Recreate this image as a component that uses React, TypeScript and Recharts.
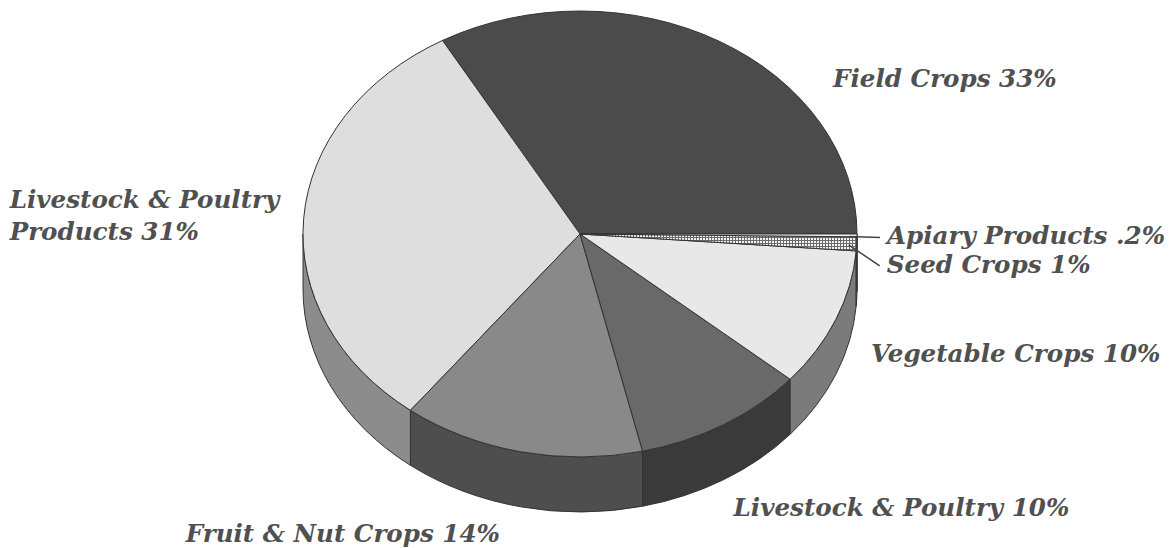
import React from 'react';
import { PieChart, Pie, Cell } from 'recharts';

// ---- data ----
const categories = [
  'Field Crops',
  'Livestock & Poultry Products',
  'Fruit & Nut Crops',
  'Livestock & Poultry',
  'Vegetable Crops',
  'Seed Crops',
  'Apiary Products',
];
const shares = [33, 31, 14, 10, 10, 1, 0.2];
const labelLines = [
  ['Field Crops 33%'],
  ['Livestock & Poultry', 'Products 31%'],
  ['Fruit & Nut Crops 14%'],
  ['Livestock & Poultry 10%'],
  ['Vegetable Crops 10%'],
  ['Seed Crops 1%'],
  ['Apiary Products .2%'],
];

// ---- styles / layout ----
const topColors = ['#4b4b4b', '#dedede', '#898989', '#696969', '#e8e8e8', 'url(#seedHatch)', '#f6f6f6'];
const sideColors = ['#3a3a3a', '#8c8c8c', '#4e4e4e', '#3a3a3a', '#7b7b7b', '#a8a8a8', '#cfcfcf'];
// label anchor offsets relative to the slice's outer rim point (dx, dy of first baseline), text anchor
const labelOffsets: [number, number, string][] = [
  [114, 46, 'start'],
  [-294, -10, 'start'],
  [-178, 35, 'middle'],
  [10, 36, 'start'],
  [35, -12, 'start'],
  [30, 29, 'start'],
  [30, 9, 'start'],
];
const leaderIdx = [5, 6];

const CX = 580;
const CY = 234;
const RX = 277;
const SQUASH = 0.805;
const DEPTH = 55;
const LINE_H = 32;

const data = categories.map((name, i) => ({ name, value: shares[i] }));

function pt(cx: number, cy: number, rx: number, ry: number, a: number): [number, number] {
  const r = (a * Math.PI) / 180;
  return [cx + rx * Math.cos(r), cy - ry * Math.sin(r)];
}

function Slice3D(props: any) {
  const { cx, cy, outerRadius, startAngle, endAngle } = props;
  const name = props.name ?? props.payload?.name;
  const idx = categories.indexOf(name);
  const rx = outerRadius;
  const ry = outerRadius * SQUASH;
  const a1 = Math.min(startAngle, endAngle);
  const a2 = Math.max(startAngle, endAngle);
  const p1 = pt(cx, cy, rx, ry, a1);
  const p2 = pt(cx, cy, rx, ry, a2);
  const large = a2 - a1 > 180 ? 1 : 0;
  const top = `M${cx},${cy} L${p1[0]},${p1[1]} A${rx},${ry} 0 ${large} 0 ${p2[0]},${p2[1]} Z`;
  let wall: string | null = null;
  const s = Math.max(a1, 180);
  const e = Math.min(a2, 360);
  if (e > s) {
    const q1 = pt(cx, cy, rx, ry, s);
    const q2 = pt(cx, cy, rx, ry, e);
    const l = e - s > 180 ? 1 : 0;
    wall = `M${q1[0]},${q1[1]} A${rx},${ry} 0 ${l} 0 ${q2[0]},${q2[1]} L${q2[0]},${q2[1] + DEPTH} A${rx},${ry} 0 ${l} 1 ${q1[0]},${q1[1] + DEPTH} Z`;
  }
  return (
    <g>
      {idx === 5 && (
        <defs>
          <pattern id="seedHatch" width="3" height="3" patternUnits="userSpaceOnUse">
            <rect width="3" height="3" fill="#f4f4f4" />
            <path d="M0,0.5 H3 M0.5,0 V3" stroke="#6a6a6a" strokeWidth="1" />
          </pattern>
        </defs>
      )}
      {wall && <path d={wall} fill={sideColors[idx]} stroke="#333" strokeWidth={1} />}
      <path d={top} fill={props.fill} stroke="#333" strokeWidth={1} strokeLinejoin="round" />
    </g>
  );
}

function SliceLabel(props: any) {
  const { cx, cy, outerRadius, midAngle } = props;
  const name = props.name ?? props.payload?.name;
  const idx = categories.indexOf(name);
  if (idx < 0) return null;
  const rx = outerRadius;
  const ry = outerRadius * SQUASH;
  const [ex, eyBase] = pt(cx, cy, rx, ry, midAngle);
  const lower = Math.sin((midAngle * Math.PI) / 180) < -0.1;
  const ey = eyBase + (lower ? DEPTH : 0);
  const [dx, dy, anchor] = labelOffsets[idx];
  const tx = ex + dx;
  const ty = ey + dy;
  return (
    <g>
      {leaderIdx.includes(idx) && (
        <line x1={ex - 8} y1={eyBase + 1} x2={tx - 7} y2={ty - 7} stroke="#444" strokeWidth={1.5} />
      )}
      <text
        x={tx}
        y={ty}
        textAnchor={anchor as any}
        fill="#505050"
        fontFamily="'DejaVu Serif', serif"
        fontWeight="bold"
        fontStyle="italic"
        fontSize={24.6}
      >
        {labelLines[idx].map((ln, j) => (
          <tspan key={j} x={tx} dy={j === 0 ? 0 : LINE_H}>
            {ln}
          </tspan>
        ))}
      </text>
    </g>
  );
}

export default function App() {
  return (
    <div style={{ position: 'absolute', left: 0, top: 0, width: 1172, height: 548, background: '#fff' }}>
      <PieChart width={1172} height={548} margin={{ top: 0, right: 0, bottom: 0, left: 0 }}>
        <Pie
          data={data}
          dataKey="value"
          nameKey="name"
          cx={CX}
          cy={CY}
          outerRadius={RX}
          startAngle={0}
          endAngle={360}
          isAnimationActive={false}
          shape={Slice3D}
          label={SliceLabel}
          labelLine={false}
          stroke="#333"
        >
          {data.map((d, i) => (
            <Cell key={d.name} fill={topColors[i]} />
          ))}
        </Pie>
      </PieChart>
    </div>
  );
}
